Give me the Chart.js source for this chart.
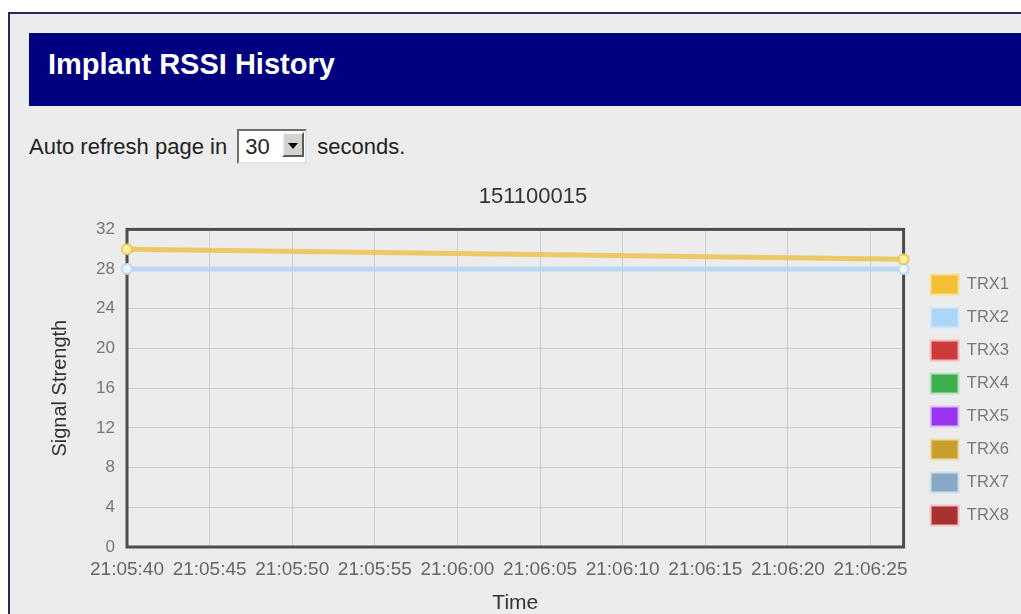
<!DOCTYPE html>
<html>
<head>
<meta charset="utf-8">
<title>Implant RSSI History</title>
<script src="https://cdn.jsdelivr.net/npm/chart.js@4.4.1/dist/chart.umd.min.js"></script>
<style>
  html, body { margin: 0; padding: 0; width: 1021px; height: 614px; overflow: hidden; background: #fff;
    font-family: "Liberation Sans", Arial, sans-serif; }
  #frame { position: absolute; left: 8px; top: 12px; width: 1040px; height: 640px;
    border: 2px solid #29295c; background: #ececec; }
  #banner { position: absolute; left: 29px; top: 33px; width: 1000px; height: 73px; background: #000080; }
  #banner h1 { position: absolute; left: 19px; top: 15px; margin: 0; font-size: 29px; line-height: 32px;
    font-weight: bold; color: #fff; }
  #refresh { position: absolute; left: 29px; top: 134px; font-size: 22px; line-height: 26px; color: #222;
    white-space: nowrap; }
  #refresh .pick { position: relative; display: inline-block; vertical-align: top; width: 66px; height: 31px;
    margin: -5px 4px 0 4px; background: #fff; border: 2px solid; border-color: #6e6e6e #e4e4e4 #e4e4e4 #6e6e6e; }
  #refresh .pick span { position: absolute; left: 6px; top: 3px; }
  #refresh .pick i { position: absolute; right: 1px; top: 1px; width: 22px; height: 25px; background: #d6d3ce;
    border: 2px solid; border-color: #f4f4f4 #5a5a5a #5a5a5a #f4f4f4; box-sizing: border-box; }
  #refresh .pick i:after { content: ""; position: absolute; left: 4px; top: 9px; border-left: 5px solid transparent;
    border-right: 5px solid transparent; border-top: 6px solid #000; }
  #chart { position: absolute; left: 47px; top: 170px; }
</style>
</head>
<body>
<div id="frame"></div>
<div id="banner"><h1>Implant RSSI History</h1></div>
<div id="refresh">Auto refresh page in <span class="pick"><span>30</span><i></i></span> seconds.</div>
<canvas id="chart" width="974" height="460"></canvas>
<script>
// seconds after 21:05:00
const sampleTimes = [40, 87];
const trx1Values = [30, 29];
const trx2Values = [28, 28];

const seriesNames = ['TRX1', 'TRX2', 'TRX3', 'TRX4', 'TRX5', 'TRX6', 'TRX7', 'TRX8'];
const seriesValues = [trx1Values, trx2Values, [], [], [], [], [], []];

const tickTimes = [40, 45, 50, 55, 60, 65, 70, 75, 80, 85];
const tickLabels = ['21:05:40', '21:05:45', '21:05:50', '21:05:55', '21:06:00',
                    '21:06:05', '21:06:10', '21:06:15', '21:06:20', '21:06:25'];

const swatchColors = ['#f3bf35', '#acd6f8', '#cc3c3c', '#3fae4f', '#9a33f2', '#c99f2c', '#87a9c6', '#a83131'];
const swatchEdges  = ['#f8df98', '#d3e8f8', '#f2bcbc', '#bde2c2', '#ddc2f8', '#ecdcae', '#d2dfea', '#f2c2c2'];
const lineColors   = ['rgba(236,194,80,0.85)', 'rgba(184,216,242,0.95)', '#cc3c3c', '#3fae4f',
                      '#9a33f2', '#c99f2c', '#87a9c6', '#a83131'];
const pointFills   = ['#fbf1a0', '#eef7ff', '#fff', '#fff', '#fff', '#fff', '#fff', '#fff'];

// dark frame round the plot area, under the lines
const plotFrame = {
    id: 'plotFrame',
    beforeDatasetsDraw(chart) {
        const a = chart.chartArea;
        const ctx = chart.ctx;
        ctx.save();
        ctx.strokeStyle = '#4d4d4d';
        ctx.lineWidth = 3;
        ctx.strokeRect(a.left, a.top, a.right - a.left, a.bottom - a.top);
        ctx.restore();
    }
};

let datasets = seriesNames.map(function (name, i) {
    return {
        label: name,
        data: seriesValues[i].map((v, j) => ({ x: sampleTimes[j], y: v })),
        borderColor: lineColors[i],
        backgroundColor: swatchColors[i],
        borderWidth: 5,
        pointRadius: 5,
        pointBorderWidth: 2,
        pointBackgroundColor: pointFills[i],
        pointBorderColor: lineColors[i],
        tension: 0,
        clip: false
    };
});

new Chart(document.getElementById('chart'), {
    type: 'line',
    data: { datasets: datasets },
    plugins: [plotFrame],
    options: {
        responsive: false,
        animation: false,
        layout: { padding: { left: 0, right: 2, top: 0, bottom: 0 } },
        plugins: {
            title: {
                display: true,
                text: '151100015',
                color: '#333',
                font: { family: 'Liberation Sans', size: 22, weight: 'normal' },
                padding: { top: 14, bottom: 19 }
            },
            legend: {
                position: 'right',
                align: 'center',
                labels: {
                    boxWidth: 28,
                    boxHeight: 20,
                    padding: 13,
                    color: '#777',
                    font: { family: 'Liberation Sans', size: 16.5 },
                    generateLabels: function (chart) {
                        return seriesNames.map((name, i) => ({
                            text: name,
                            fillStyle: swatchColors[i],
                            strokeStyle: swatchEdges[i],
                            lineWidth: 2,
                            fontColor: '#777',
                            hidden: false,
                            datasetIndex: i
                        }));
                    }
                }
            },
            tooltip: { enabled: false }
        },
        scales: {
            x: {
                type: 'linear',
                min: sampleTimes[0],
                max: sampleTimes[sampleTimes.length - 1],
                afterBuildTicks: function (scale) {
                    scale.ticks = tickTimes.map(v => ({ value: v }));
                },
                afterFit: function (scale) { scale.height = 83; },
                ticks: {
                    autoSkip: false,
                    maxRotation: 0,
                    padding: 11,
                    color: '#666',
                    font: { family: 'Liberation Sans', size: 19 },
                    callback: (value, index) => tickLabels[index]
                },
                grid: { color: '#cdcdcd', drawTicks: false },
                border: { display: false },
                title: {
                    display: true,
                    text: 'Time',
                    color: '#333',
                    font: { family: 'Liberation Sans', size: 21 },
                    padding: { top: 0, bottom: 14 }
                }
            },
            y: {
                min: 0,
                max: 32,
                afterFit: function (scale) { scale.width = 80; },
                ticks: {
                    stepSize: 4,
                    padding: 12,
                    color: '#777',
                    font: { family: 'Liberation Sans', size: 17 }
                },
                grid: { color: '#cdcdcd', drawTicks: false },
                border: { display: false },
                title: {
                    display: true,
                    text: 'Signal Strength',
                    color: '#333',
                    font: { family: 'Liberation Sans', size: 20 },
                    padding: { top: 1 }
                }
            },
            // empty strip between the plot and the legend
            gap: {
                type: 'linear',
                position: 'right',
                grid: { display: false },
                ticks: { display: false },
                border: { display: false },
                afterFit: function (scale) { scale.width = 14; }
            }
        }
    }
});
</script>
</body>
</html>
